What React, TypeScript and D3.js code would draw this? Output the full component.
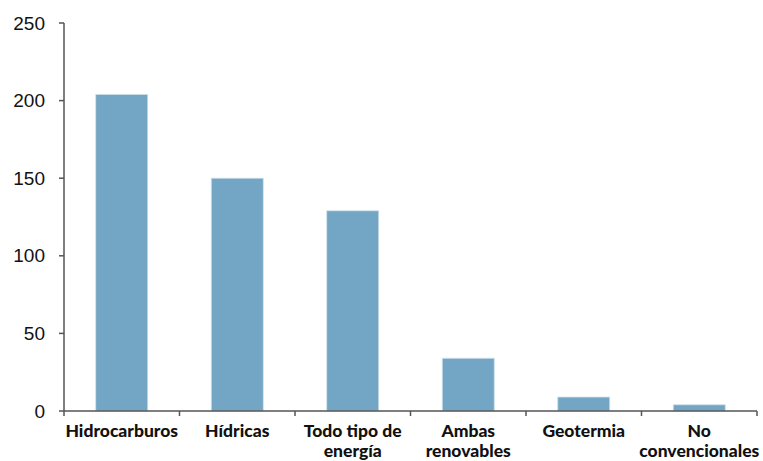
import React from "react";
import * as d3 from "d3";

const categories: string[][] = [
  ["Hidrocarburos"],
  ["Hídricas"],
  ["Todo tipo de", "energía"],
  ["Ambas", "renovables"],
  ["Geotermia"],
  ["No", "convencionales"],
];
const values: number[] = [204, 150, 129, 34, 9, 4];
const yTicks: number[] = [0, 50, 100, 150, 200, 250];

const W = 763;
const H = 461;
const left = 64;
const right = 757;
const top = 23;
const bottom = 411;

export default function App() {
  const keys = categories.map((c) => c.join(" "));
  const x = d3.scaleBand<string>().domain(keys).range([left, right]).paddingInner(0.55).paddingOuter(0.275);
  const y = d3.scaleLinear().domain([0, 250]).range([bottom, top]);
  const step = x.step();
  const axisColor = "#555";
  return (
    <svg width={W} height={H} style={{ position: "absolute", left: 0, top: 0 }}>
      {values.map((v, i) => (
        <rect
          key={i}
          x={x(keys[i])!}
          y={y(v)}
          width={x.bandwidth()}
          height={y(0) - y(v)}
          fill="#73a6c4"
          stroke="#cfe0ea"
          strokeWidth={0.8}
        />
      ))}
      <line x1={left} x2={left} y1={top} y2={bottom} stroke={axisColor} strokeWidth={1.5} />
      <line x1={left} x2={right} y1={bottom} y2={bottom} stroke={axisColor} strokeWidth={1.5} />
      {yTicks.map((t) => (
        <g key={t}>
          <line x1={left - 5} x2={left} y1={y(t)} y2={y(t)} stroke={axisColor} strokeWidth={1.5} />
          <text
            x={45}
            y={y(t)}
            textAnchor="end"
            dominantBaseline="central"
            fontFamily="Liberation Sans, Arial, sans-serif"
            fontSize={19}
            fill="#111"
          >
            {t}
          </text>
        </g>
      ))}
      {d3.range(categories.length + 1).map((i) => (
        <line
          key={i}
          x1={left + i * step}
          x2={left + i * step}
          y1={bottom}
          y2={bottom + 5}
          stroke={axisColor}
          strokeWidth={1.5}
        />
      ))}
      {categories.map((lines, i) => (
        <text
          key={i}
          x={x(keys[i])! + x.bandwidth() / 2}
          textAnchor="middle"
          fontFamily="Lato, 'Open Sans', sans-serif"
          fontWeight={900}
          fontSize={17.5}
          fill="#111"
        >
          {lines.map((l, j) => (
            <tspan key={j} x={x(keys[i])! + x.bandwidth() / 2} y={437 + j * 19.5}>
              {l}
            </tspan>
          ))}
        </text>
      ))}
    </svg>
  );
}
